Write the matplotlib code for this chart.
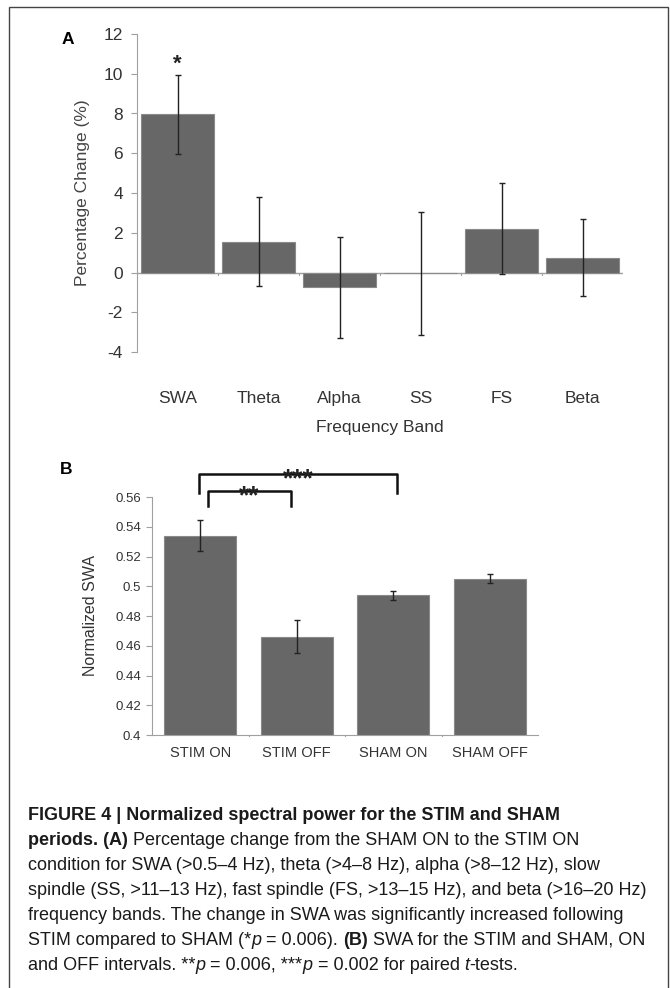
import matplotlib
matplotlib.use("Agg")
import matplotlib.pyplot as plt
from matplotlib.patches import Rectangle

# dane - panel A
pasma = ["SWA", "Theta", "Alpha", "SS", "FS", "Beta"]
zmiana = [7.95, 1.55, -0.75, -0.05, 2.2, 0.75]
zmiana_err = [2.0, 2.25, 2.55, 3.1, 2.3, 1.95]
a_yticks = [-4, -2, 0, 2, 4, 6, 8, 10, 12]

# dane - panel B
warunki = ["STIM ON", "STIM OFF", "SHAM ON", "SHAM OFF"]
swa = [0.534, 0.466, 0.494, 0.505]
swa_err = [0.0105, 0.011, 0.003, 0.003]
b_yticks = [0.4, 0.42, 0.44, 0.46, 0.48, 0.5, 0.52, 0.54, 0.56]
b_yticklabels = ["0.4", "0.42", "0.44", "0.46", "0.48", "0.5", "0.52", "0.54", "0.56"]

plt.rcParams['font.family'] = ['Liberation Sans', 'DejaVu Sans']

W, H = 670, 988
fig = plt.figure(figsize=(W / 100, H / 100), dpi=100)

BAR = "#676767"
EDGE = "#8a8a8a"
AXC = "#a0a0a0"
TXT = "#333333"


def px_axes(x0, y0, x1, y1):
    return fig.add_axes([x0 / W, 1 - y1 / H, (x1 - x0) / W, (y1 - y0) / H])


# ramka
fig.patches.append(Rectangle((9 / W, -0.05), (668 - 9) / W, 1.05 - 7 / H,
                             transform=fig.transFigure, fill=False,
                             edgecolor="#444444", linewidth=1.0))

# panel A
ax = px_axes(137, 34, 623, 352)
x = range(len(pasma))
ax.bar(x, zmiana, width=0.9, color=BAR, edgecolor=EDGE, linewidth=0.8)
ax.errorbar(x, zmiana, yerr=zmiana_err, fmt="none", ecolor="#222222",
            elinewidth=1.0, capsize=2.5, capthick=1.0)
ax.set_xlim(-0.5, len(pasma) - 0.5)
ax.set_ylim(-4, 12)
ax.set_yticks(a_yticks)
ax.set_yticklabels([str(v) for v in a_yticks], fontsize=12.5, color=TXT)
for s in ["top", "right", "bottom"]:
    ax.spines[s].set_visible(False)
ax.spines["left"].set_color(AXC)
ax.tick_params(axis="y", length=4, color=AXC, pad=6)
ax.axhline(0, color=AXC, linewidth=1.0, zorder=0.5)
for b in range(1, len(pasma)):
    ax.plot([b - 0.5, b - 0.5], [0, -0.12], color=AXC, linewidth=0.8)
ax.set_xticks(list(x))
ax.set_xticklabels(pasma, fontsize=12.5, color=TXT)
ax.tick_params(axis="x", length=0, pad=28)
ax.set_xlabel("Frequency Band", fontsize=12.5, color=TXT, labelpad=10)
ax.set_ylabel("Percentage Change (%)", fontsize=12.5, color="#444444", labelpad=10)
ax.text(0, zmiana[0] + zmiana_err[0] + 0.55, "*", ha="center", va="center",
        fontsize=16, fontweight="bold", color="#222222")
fig.text(68 / W, 1 - 40 / H, "A", fontsize=12.5, fontweight="bold",
         ha="center", va="center")

# panel B
bx = px_axes(152, 497, 538, 735)
x2 = range(len(warunki))
bx.bar(x2, swa, width=0.75, color=BAR, edgecolor=EDGE, linewidth=0.8)
bx.errorbar(x2, swa, yerr=swa_err, fmt="none", ecolor="#222222",
            elinewidth=1.0, capsize=2.5, capthick=1.0)
bx.set_xlim(-0.5, len(warunki) - 0.5)
bx.set_ylim(0.4, 0.56)
bx.set_yticks(b_yticks)
bx.set_yticklabels(b_yticklabels, fontsize=9.5, color=TXT)
for s in ["top", "right"]:
    bx.spines[s].set_visible(False)
bx.spines["left"].set_color(AXC)
bx.spines["bottom"].set_color(AXC)
bx.tick_params(axis="y", length=4, color=AXC, pad=4)
bx.set_xticks(list(x2))
bx.set_xticklabels(warunki, fontsize=10.5, color=TXT)
bx.tick_params(axis="x", length=0, pad=8)
for b in range(1, len(warunki)):
    bx.plot([b - 0.5, b - 0.5], [0.4, 0.399], color=AXC, linewidth=0.8, clip_on=False)
bx.set_ylabel("Normalized SWA", fontsize=11.5, color="#333333", labelpad=12)

# klamry istotnosci
klamry = [(-0.01, 2.04, 0.5755, 0.5627, "***"), (0.08, 0.94, 0.564, 0.554, "**")]
for xa, xb, top, bot, gw in klamry:
    bx.plot([xa, xa, xb, xb], [bot, top, top, bot], color="#111111",
            linewidth=1.8, clip_on=False)
    bx.text((xa + xb) / 2, top - 0.0085, gw, ha="center", va="baseline",
            fontsize=19, fontweight="bold", color="#222222", clip_on=False)
fig.text(66 / W, 1 - 469 / H, "B", fontsize=12.5, fontweight="bold",
         ha="center", va="center")

# podpis
lines = [
    [("FIGURE 4 | Normalized spectral power for the STIM and SHAM", "bold")],
    [("periods. (A) ", "bold"), ("Percentage change from the SHAM ON to the STIM ON", "normal")],
    [("condition for SWA (>0.5\u20134 Hz), theta (>4\u20138 Hz), alpha (>8\u201312 Hz), slow", "normal")],
    [("spindle (SS, >11\u201313 Hz), fast spindle (FS, >13\u201315 Hz), and beta (>16\u201320 Hz)", "normal")],
    [("frequency bands. The change in SWA was significantly increased following", "normal")],
    [("STIM compared to SHAM (*", "normal"), ("p", "italic"), (" = 0.006). ", "normal"),
     ("(B)", "bold"), (" SWA for the STIM and SHAM, ON", "normal")],
    [("and OFF intervals. **", "normal"), ("p", "italic"), (" = 0.006, ***", "normal"),
     ("p", "italic"), (" = 0.002 for paired ", "normal"), ("t", "italic"), ("-tests.", "normal")],
]
renderer = fig.canvas.get_renderer()
y0 = 815
for i, parts in enumerate(lines):
    xx = 28
    for txt, wt in parts:
        styl = "italic" if wt == "italic" else "normal"
        waga = "bold" if wt == "bold" else "normal"
        t = fig.text(xx / W, 1 - (y0 + 25 * i) / H, txt, fontsize=13,
                     fontweight=waga, fontstyle=styl, color="#1a1a1a",
                     va="center", ha="left")
        bb = t.get_window_extent(renderer=renderer)
        xx += bb.width

fig.savefig("out.png", dpi=100)
